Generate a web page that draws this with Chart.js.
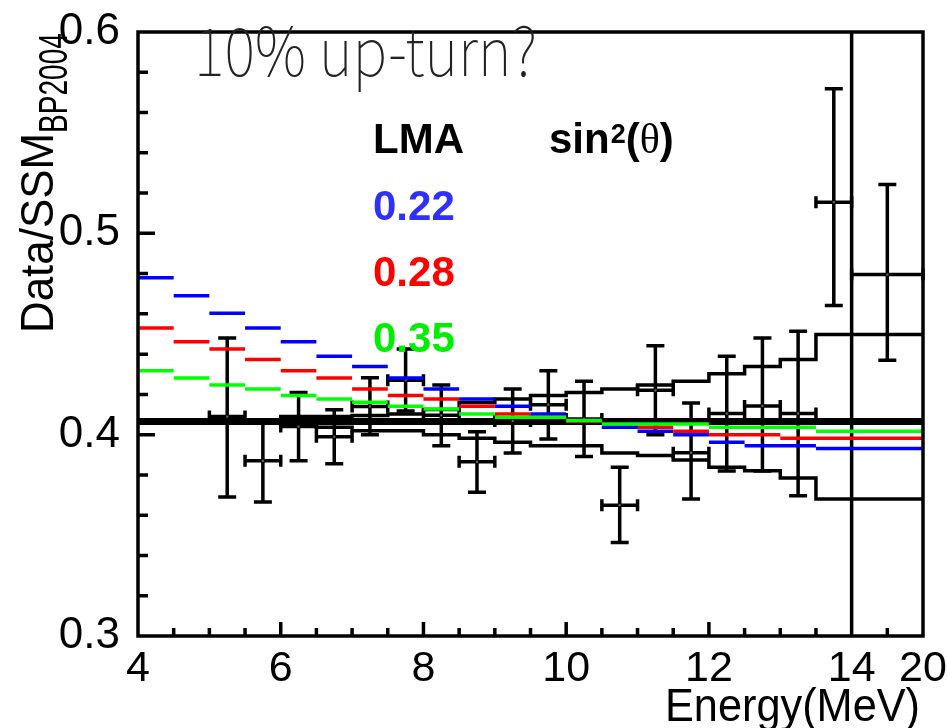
<!DOCTYPE html>
<html>
<head>
<meta charset="utf-8">
<script src="https://cdn.jsdelivr.net/npm/chart.js@4.4.1/dist/chart.umd.min.js"></script>
<style>
  html, body { margin: 0; padding: 0; background: #fff; }
</style>
</head>
<body>
<canvas id="chart" width="947" height="728"></canvas>
<script>
// Bin edges in MeV; the last bin (14-20 MeV) is squeezed into 14-15 on the axis
const binEdges = [4, 4.5, 5, 5.5, 6, 6.5, 7, 7.5, 8, 8.5, 9, 9.5, 10, 10.5, 11, 11.5, 12, 12.5, 13, 13.5, 14, 15];

// LMA predictions for sin^2(theta) = 0.22 / 0.28 / 0.35
const lma022 = [0.478, 0.469, 0.4603, 0.453, 0.4462, 0.439, 0.4338, 0.4282, 0.4227, 0.4177, 0.4141,
                0.4103, 0.407, 0.4037, 0.4017, 0.400, 0.3962, 0.3945, 0.3945, 0.3931, 0.3931];
const lma028 = [0.453, 0.4462, 0.4426, 0.4373, 0.4318, 0.4282, 0.4227, 0.4194, 0.4177, 0.4141, 0.4103,
                0.409, 0.4065, 0.4037, 0.4037, 0.4017, 0.400, 0.400, 0.3982, 0.3982, 0.3982];
const lma035 = [0.4318, 0.4282, 0.4247, 0.4227, 0.4194, 0.4177, 0.4161, 0.4141, 0.4128, 0.4103, 0.4086,
                0.4086, 0.407, 0.4053, 0.4053, 0.4053, 0.4037, 0.4037, 0.4037, 0.4017, 0.4017];

// Flat SSM level and its systematic band
const ssmLevel = 0.4065;
const bandUpper = [0.4065, 0.4065, 0.4065, 0.4065, 0.4065, 0.409, 0.409, 0.4095, 0.4103, 0.4125, 0.416,
                   0.4177, 0.4194, 0.421, 0.4227, 0.4247, 0.4265, 0.4302, 0.4338, 0.4373, 0.4497];
const bandLower = [0.4065, 0.4065, 0.4065, 0.4065, 0.4065, 0.405, 0.4037, 0.402, 0.402, 0.3999, 0.3982,
                   0.3962, 0.3945, 0.3945, 0.3909, 0.3896, 0.3874, 0.3838, 0.3821, 0.3785, 0.368];

// Measured points
const dataEnergy = [5.25, 5.75, 6.25, 6.75, 7.25, 7.75, 8.25, 8.75, 9.25, 9.75, 10.25, 10.75, 11.25,
                    11.75, 12.25, 12.75, 13.25, 13.75, 14.5];
const dataHalfWidth = [0.25, 0.25, 0.25, 0.25, 0.25, 0.25, 0.25, 0.25, 0.25, 0.25, 0.25, 0.25, 0.25,
                       0.25, 0.25, 0.25, 0.25, 0.25, 0.5];
const dataValue = [0.409, 0.387, 0.404, 0.399, 0.414, 0.427, 0.4096, 0.3865, 0.4068, 0.4149, 0.4078,
                   0.365, 0.422, 0.391, 0.4105, 0.4143, 0.4105, 0.5155, 0.4795];
const dataHigh = [0.448, 0.407, 0.421, 0.4124, 0.4283, 0.4426, 0.4247, 0.4015, 0.4227, 0.4318, 0.4265,
                  0.3838, 0.4442, 0.4157, 0.439, 0.448, 0.4514, 0.5718, 0.5242];
const dataLow = [0.369, 0.3666, 0.387, 0.3856, 0.400, 0.4118, 0.3945, 0.3714, 0.3909, 0.3979, 0.3891,
                 0.3465, 0.400, 0.368, 0.382, 0.382, 0.3697, 0.4641, 0.437];

const xTickValues = [4, 6, 8, 10, 12, 14, 15];
const xTickLabels = ['4', '6', '8', '10', '12', '14', '20'];
const yTickValues = [0.3, 0.4, 0.5, 0.6];
const yTickLabels = ['0.3', '0.4', '0.5', '0.6'];

// separate horizontal pieces, one per bin
function histSegments(values) {
  const pts = [];
  values.forEach((v, i) => {
    pts.push({x: binEdges[i], y: v}, {x: binEdges[i + 1], y: v}, {x: binEdges[i + 1], y: null});
  });
  return pts;
}

// connected staircase
function histSteps(values) {
  const pts = values.map((v, i) => ({x: binEdges[i], y: v}));
  pts.push({x: binEdges[binEdges.length - 1], y: values[values.length - 1]});
  return pts;
}

function lineSet(data, color, width, order, extra) {
  return Object.assign({
    data: data, borderColor: color, borderWidth: width, pointRadius: 0,
    fill: false, tension: 0, spanGaps: false, order: order, borderCapStyle: 'butt'
  }, extra || {});
}

// draw text squeezed to a given width
function fitText(ctx, text, x, y, width, font, color, angle) {
  ctx.save();
  ctx.font = font;
  const w = ctx.measureText(text).width;
  ctx.translate(x, y);
  if (angle) ctx.rotate(angle);
  ctx.scale(width / w, 1);
  ctx.fillStyle = color;
  ctx.textAlign = 'left';
  ctx.textBaseline = 'alphabetic';
  ctx.fillText(text, 0, 0);
  ctx.restore();
}

// no extra room for overhanging tick labels, the frame is placed by hand
function fixScale(scale) {
  scale.paddingTop = 0;
  scale.paddingBottom = 0;
  scale.paddingLeft = 0;
  scale.paddingRight = 0;
}

// error bars of the measured points
const errorBars = {
  id: 'errorBars',
  beforeDatasetsDraw(chart) {
    const {ctx, scales: {x, y}} = chart;
    ctx.save();
    ctx.strokeStyle = '#000';
    ctx.lineWidth = 3.5;
    ctx.beginPath();
    dataEnergy.forEach((e, i) => {
      const px = x.getPixelForValue(e);
      const x0 = x.getPixelForValue(e - dataHalfWidth[i]);
      const x1 = x.getPixelForValue(e + dataHalfWidth[i]);
      const py = y.getPixelForValue(dataValue[i]);
      const yHi = y.getPixelForValue(dataHigh[i]);
      const yLo = y.getPixelForValue(dataLow[i]);
      ctx.moveTo(px, yHi); ctx.lineTo(px, yLo);
      ctx.moveTo(px - 9, yHi); ctx.lineTo(px + 9, yHi);
      ctx.moveTo(px - 9, yLo); ctx.lineTo(px + 9, yLo);
      ctx.moveTo(x0, py); ctx.lineTo(x1, py);
      ctx.moveTo(x0, py - 6); ctx.lineTo(x0, py + 6);
      ctx.moveTo(x1, py - 6); ctx.lineTo(x1, py + 6);
    });
    ctx.stroke();
    ctx.restore();
  }
};

// frame and inward tick marks
const frameTicks = {
  id: 'frameTicks',
  afterDatasetsDraw(chart) {
    const {ctx, chartArea: a, scales: {x, y}} = chart;
    ctx.save();
    ctx.strokeStyle = '#000';
    ctx.lineWidth = 3.5;
    ctx.strokeRect(a.left, a.top, a.right - a.left, a.bottom - a.top);
    ctx.beginPath();
    for (let k = 1; k < 15; k++) {
      const py = y.getPixelForValue(0.3 + k * 0.02);
      const len = k % 5 === 0 ? 17 : 10;
      ctx.moveTo(a.left, py); ctx.lineTo(a.left + len, py);
    }
    for (let k = 1; k < 22; k++) {
      const v = 4 + k * 0.5;
      if (v === 14) continue;
      const px = x.getPixelForValue(v);
      const len = (k % 4 === 0 && v < 14) ? 14 : 8;
      ctx.moveTo(px, a.bottom); ctx.lineTo(px, a.bottom - len);
    }
    ctx.stroke();
    ctx.restore();
  }
};

// titles and annotations
const labels = {
  id: 'labels',
  afterDraw(chart) {
    const ctx = chart.ctx;
    ctx.save();
    fitText(ctx, '10% up-turn?', 194, 76, 343, '100 67px "Noto Sans CJK JP"', '#222');

    ctx.textBaseline = 'alphabetic';
    ctx.textAlign = 'left';
    ctx.fillStyle = '#000';
    ctx.font = 'bold 42px "Liberation Sans"';
    ctx.fillText('LMA', 373, 153);

    let sx = 549;
    ctx.fillText('sin', sx, 153);
    sx += ctx.measureText('sin').width;
    ctx.font = 'bold 27px "Liberation Sans"';
    ctx.fillText('2', sx + 1, 143);
    sx += ctx.measureText('2').width + 1;
    ctx.font = 'bold 42px "Liberation Sans"';
    ctx.fillText('(', sx, 153);
    sx += ctx.measureText('(').width;
    ctx.font = '42px "Liberation Serif"';
    ctx.fillText('\u03b8', sx, 153);
    sx += ctx.measureText('\u03b8').width;
    ctx.font = 'bold 42px "Liberation Sans"';
    ctx.fillText(')', sx, 153);

    ctx.fillStyle = '#2f2fff';
    ctx.fillText('0.22', 373, 220);
    ctx.fillStyle = '#ff0000';
    ctx.fillText('0.28', 373, 286);
    ctx.fillStyle = '#00ee00';
    ctx.fillText('0.35', 373, 352);

    fitText(ctx, 'Data/SSM', 53, 333, 200, '46px "Liberation Sans"', '#000', -Math.PI / 2);
    fitText(ctx, 'BP2004', 67, 133, 100, '40px "Liberation Sans"', '#000', -Math.PI / 2);
    fitText(ctx, 'Energy(MeV)', 665, 721, 255, '46px "Liberation Sans"', '#000');
    ctx.restore();
  }
};

Chart.defaults.font.family = '"Liberation Sans", Arial, sans-serif';
Chart.defaults.color = '#000';

new Chart(document.getElementById('chart'), {
  type: 'line',
  data: {
    datasets: [
      lineSet(histSegments(lma035), '#00ff00', 3.5, 1),
      lineSet(histSegments(lma022), '#0000ff', 3.5, 2),
      lineSet(histSegments(lma028), '#ff0000', 3.5, 3),
      {
        data: dataEnergy.map((e, i) => ({x: e, y: dataValue[i]})),
        showLine: false, pointStyle: 'rect', pointRadius: 1.5,
        pointBackgroundColor: '#666', pointBorderWidth: 0, order: 4
      },
      lineSet(histSteps(bandUpper), '#000', 3.5, 5, {stepped: 'after'}),
      lineSet(histSteps(bandLower), '#000', 3.5, 5, {stepped: 'after'}),
      lineSet([{x: 4, y: ssmLevel}, {x: 15, y: ssmLevel}], '#000', 7, 6),
      lineSet([{x: 14, y: 0.3}, {x: 14, y: 0.6}], '#000', 3.5, 7)
    ]
  },
  options: {
    responsive: false,
    animation: false,
    layout: { padding: { top: 32, right: 24, left: 0, bottom: 0 } },
    plugins: { legend: { display: false }, tooltip: { enabled: false } },
    scales: {
      x: {
        type: 'linear', min: 4, max: 15,
        grid: { display: false, drawTicks: false },
        border: { display: false },
        afterBuildTicks: (scale) => { scale.ticks = xTickValues.map(v => ({value: v})); },
        afterFit: (scale) => { scale.height = 92; fixScale(scale); },
        ticks: {
          padding: 7, maxRotation: 0, autoSkip: false,
          font: { size: 43 },
          callback: (v) => xTickLabels[xTickValues.indexOf(v)]
        }
      },
      y: {
        type: 'linear', min: 0.3, max: 0.6,
        grid: { display: false, drawTicks: false },
        border: { display: false },
        afterBuildTicks: (scale) => { scale.ticks = yTickValues.map(v => ({value: v})); },
        afterFit: (scale) => { scale.width = 138; fixScale(scale); },
        ticks: {
          padding: 18,
          font: { size: 44 },
          callback: (v) => yTickLabels[yTickValues.indexOf(v)]
        }
      }
    }
  },
  plugins: [errorBars, frameTicks, labels]
});
</script>
</body>
</html>
